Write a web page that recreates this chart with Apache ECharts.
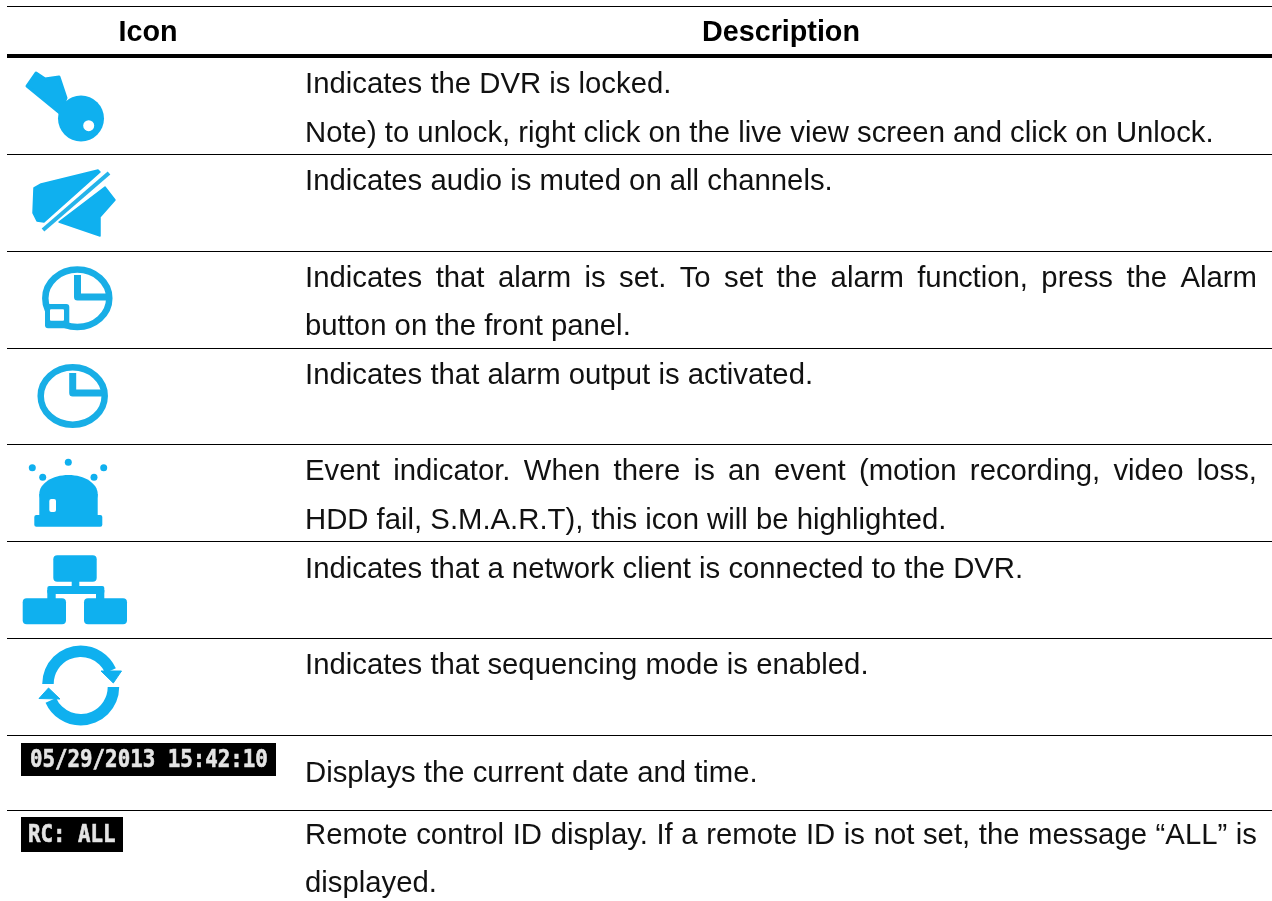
<!DOCTYPE html>
<html><head><meta charset="utf-8">
<style>html,body{margin:0;padding:0;background:#fff}#c{width:1272px;height:901px}</style>
<script src="https://cdn.jsdelivr.net/npm/echarts@6/dist/echarts.min.js"></script>
</head><body><div id="c"></div>
<script>
// ---- content ----
const headers = ['Icon', 'Description'];
const descriptions = [
  'Indicates the DVR is locked.',
  'Note) to unlock, right click on the live view screen and click on Unlock.',
  'Indicates audio is muted on all channels.',
  'Indicates that alarm is set. To set the alarm function, press the Alarm',
  'button on the front panel.',
  'Indicates that alarm output is activated.',
  'Event indicator. When there is an event (motion recording, video loss,',
  'HDD fail, S.M.A.R.T), this icon will be highlighted.',
  'Indicates that a network client is connected to the DVR.',
  'Indicates that sequencing mode is enabled.',
  'Displays the current date and time.',
  'Remote control ID display. If a remote ID is not set, the message \u201CALL\u201D is',
  'displayed.'
];
const justifiedLines = [3, 6, 11];
const osdLabels = ['05/29/2013 15:42:10', 'RC: ALL'];

// ---- layout (page pixels) ----
const lineBaselines = [93, 142, 190, 287, 335.5, 384, 480, 529, 578, 674.5, 782.5, 844.5, 892.5];
const ruleTops = [6, 54, 154, 251, 348, 444, 541, 638, 735, 810];
const ruleHeights = [1, 4, 1, 1, 1, 1, 1, 1, 1, 1];
const textLeft = 305, textRight = 1257, ruleLeft = 7, ruleRight = 1272;
const FONT = '"Liberation Sans", Arial, sans-serif';
const SIZE = 29.3;
const HEAD_SIZE = 28.7;
const MIDDLE_OFFSET = 8.5; // em-box middle above the alphabetic baseline
const BLUE = '#0fb0ef';

const ctx = document.createElement('canvas').getContext('2d');
ctx.font = SIZE + 'px "Liberation Sans"';
const textItems = [];
descriptions.forEach((s, i) => {
  const y = lineBaselines[i];
  if (justifiedLines.includes(i)) {
    const words = s.split(' ');
    const total = words.reduce((a, w) => a + ctx.measureText(w).width, 0);
    const gap = (textRight - textLeft - total) / (words.length - 1);
    let x = textLeft;
    words.forEach(w => { textItems.push([x, y, w]); x += ctx.measureText(w).width + gap; });
  } else textItems.push([textLeft, y, s]);
});

// ---- icons ----
const fill = { fill: BLUE };
const icon = [];
const poly = (pts, extra) => icon.push({ type: 'polygon', shape: { points: pts }, style: Object.assign({ fill: BLUE, stroke: BLUE, lineWidth: 3, lineJoin: 'round' }, extra || {}) });
const circ = (cx, cy, r, f) => icon.push({ type: 'circle', shape: { cx, cy, r }, style: { fill: f || BLUE } });
const box = (x, y, w, h, r, f) => icon.push({ type: 'rect', shape: { x, y, width: w, height: h, r: r || 0 }, style: { fill: f || BLUE } });
const hand = pts => icon.push({ type: 'polyline', shape: { points: pts }, style: { stroke: '#18aee6', fill: null, lineWidth: 7, lineCap: 'butt', lineJoin: 'round' } });
const ring = (cx, cy, rx, ry) => icon.push({ type: 'ellipse', shape: { cx, cy, rx, ry }, style: { stroke: '#18aee6', fill: null, lineWidth: 6.5 } });

// key
poly([[27,86],[36,73],[45,79],[59,77],[66,98],[60,113]]);
circ(81, 118.5, 23); circ(88.7, 125.7, 5.5, '#fff');
// mute
poly([[34,188],[41,184],[98,170],[100,172],[44,222],[37,221],[33,213]], { lineWidth: 1.5 });
poly([[105,187],[115,200],[100,217],[100,236],[59,222]], { lineWidth: 1.5 });
icon.push({ type: 'line', shape: { x1: 43, y1: 230, x2: 109, y2: 173 }, style: { stroke: '#25b4ea', lineWidth: 4 } });
// alarm with box
ring(77.3, 298.3, 32, 28.7);
hand([[77.5,275],[77.5,297],[108,297]]);
box(45, 304, 24.3, 24.3, 3, '#18aee6'); box(50, 309.3, 14, 11.4, 1, '#fff');
// alarm output
ring(72.7, 396, 32, 28.7);
hand([[72.7,373],[72.7,393],[102,393]]);
// event siren
[[68.3,462.3],[32.3,467.7],[103.7,467.7],[42.7,477.3],[94,477.3]].forEach(p => circ(p[0], p[1], 3.5));
icon.push({ type: 'ellipse', shape: { cx: 68.5, cy: 494, rx: 29.2, ry: 19 }, style: fill });
box(39.3, 494, 58.4, 22);
box(34.3, 515, 68, 11.7, 2);
box(49.3, 499, 6.7, 13, 2, '#fff');
// network
box(53.3, 555.3, 43.4, 26.4, 4);
box(71.7, 581, 7.6, 6);
box(47.3, 586, 57, 8, 2);
box(47.3, 590, 8.4, 10); box(96, 590, 8.3, 10);
box(22.7, 598.3, 43.3, 26, 4); box(84, 598.3, 43, 26, 4);
// sequence
icon.push({ type: 'sector', shape: { cx: 80.7, cy: 684, r: 38.5, r0: 27, startAngle: Math.PI, endAngle: 2 * Math.PI - 0.42, clockwise: true }, style: fill });
icon.push({ type: 'sector', shape: { cx: 80.7, cy: 687, r: 38.5, r0: 27, startAngle: 0, endAngle: Math.PI - 0.42, clockwise: true }, style: fill });
poly([[101,671],[121.5,671],[113.3,683]], { lineWidth: 1 });
poly([[48.5,688],[39,698.5],[60,699]], { lineWidth: 1 });

// OSD labels
const osdBoxes = [[21, 743, 255, 33], [21, 817, 102, 35]];
const osdText = [[30, 761], [28, 836]];
const osdGraphics = [];
osdLabels.forEach((t, i) => {
  const b = osdBoxes[i], p = osdText[i];
  osdGraphics.push({ type: 'rect', shape: { x: b[0], y: b[1], width: b[2], height: b[3] }, style: { fill: '#000' } });
  osdGraphics.push({ type: 'text', x: p[0], y: p[1], scaleY: 1.18, style: { text: t, x: 0, y: 0, fill: '#e4e4e4', font: 'bold 20.8px "DejaVu Sans Mono"', verticalAlign: 'middle', stroke: '#cfcfcf', lineWidth: 0.6, shadowColor: '#999', shadowBlur: 3 } });
});

const chart = echarts.init(document.getElementById('c'), null, { renderer: 'canvas' });
chart.setOption({
  animation: false,
  backgroundColor: '#fff',
  grid: { left: 0, right: 0, top: 0, bottom: 0 },
  xAxis: { type: 'value', min: 0, max: 1272, show: false },
  yAxis: { type: 'value', min: 0, max: 901, inverse: true, show: false },
  graphic: { elements: icon.concat(osdGraphics).map(e => Object.assign({ silent: true }, e)) },
  series: [
    { type: 'custom', coordinateSystem: 'cartesian2d', silent: true,
      data: ruleTops.map((y, i) => [ruleLeft, y, ruleRight, ruleHeights[i]]),
      encode: { x: [0, 2], y: 1 },
      renderItem: (p, api) => {
        const a = api.coord([api.value(0), api.value(1)]);
        const b = api.coord([api.value(2), api.value(1) + api.value(3)]);
        return { type: 'rect', shape: { x: a[0], y: a[1], width: b[0] - a[0], height: b[1] - a[1] }, style: { fill: '#000' } };
      } },
    { type: 'custom', coordinateSystem: 'cartesian2d', silent: true,
      data: textItems,
      encode: { x: 0, y: 1 },
      renderItem: (p, api) => {
        const c = api.coord([api.value(0), api.value(1) - MIDDLE_OFFSET]);
        return { type: 'text', x: c[0], y: c[1], style: { text: textItems[p.dataIndex][2], fill: '#111', font: SIZE + 'px ' + FONT, verticalAlign: 'middle' } };
      } },
    { type: 'custom', coordinateSystem: 'cartesian2d', silent: true,
      data: [[148, 42], [781, 42]],
      encode: { x: 0, y: 1 },
      renderItem: (p, api) => {
        const c = api.coord([api.value(0), api.value(1) - MIDDLE_OFFSET]);
        return { type: 'text', x: c[0], y: c[1], style: { text: headers[p.dataIndex], fill: '#000', font: 'bold ' + HEAD_SIZE + 'px ' + FONT, align: 'center', verticalAlign: 'middle' } };
      } }
  ]
});
</script></body></html>
